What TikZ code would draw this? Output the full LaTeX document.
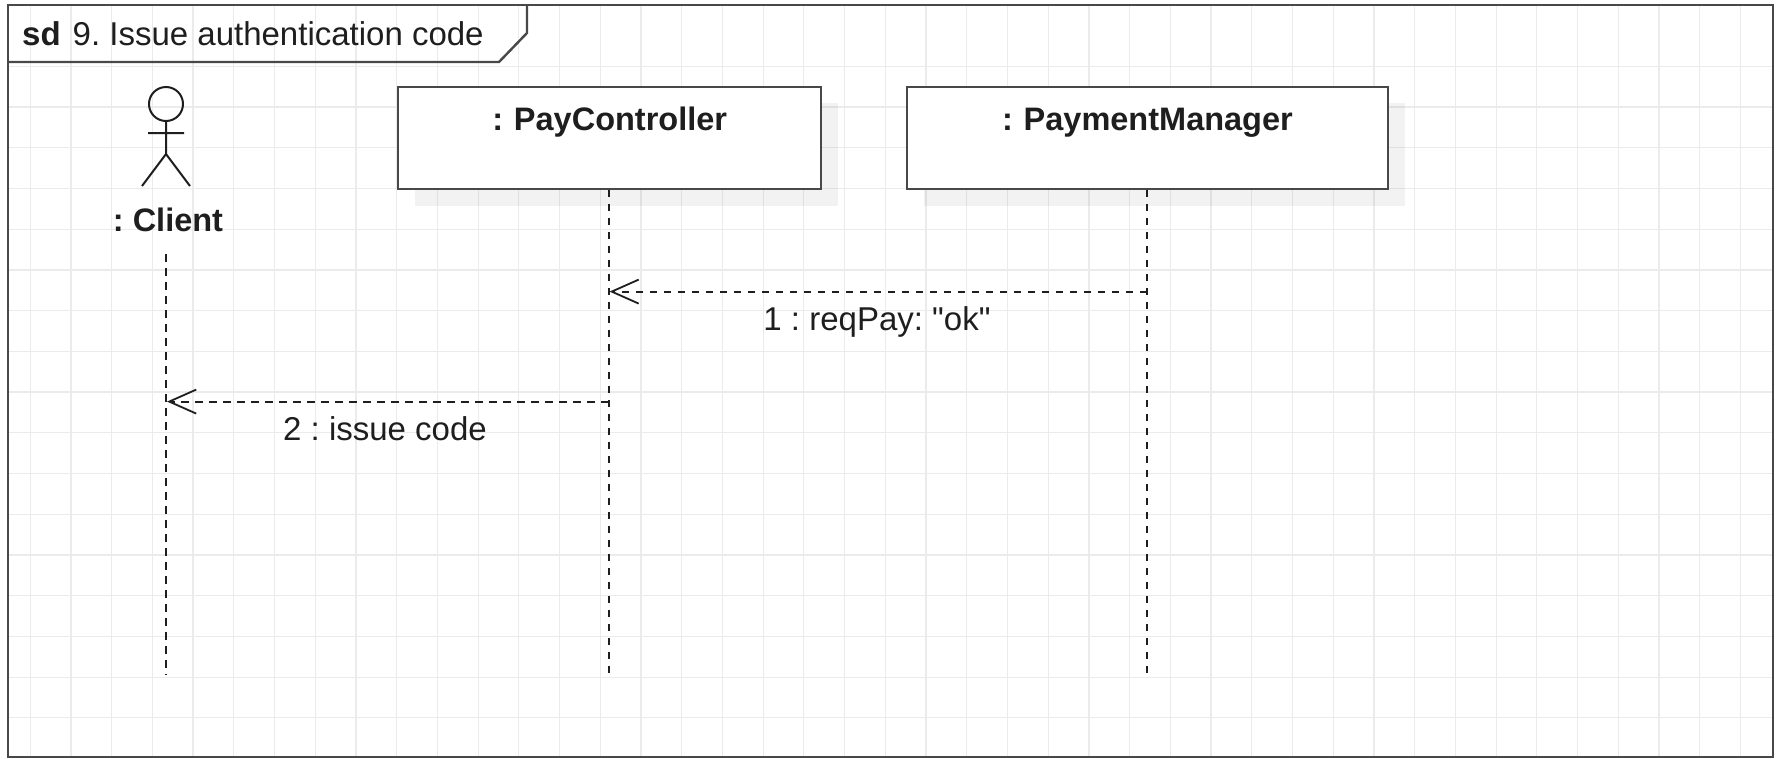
\documentclass[tikz,border=0pt]{standalone}
\usepackage{fontspec}
\setmainfont{Liberation Sans}
\newfontfamily\quotefont{Liberation Sans}
\usetikzlibrary{arrows.meta}
\definecolor{gridc}{HTML}{EBEBEB}
\definecolor{inkc}{HTML}{484848}
\definecolor{textc}{HTML}{1E1E1E}
\newcommand{\labelfont}{\fontsize{32.5}{36}\selectfont\frenchspacing}
\newcommand{\msgfont}{\fontsize{33}{36}\selectfont\frenchspacing}
\tikzset{
  gridline/.style={draw=gridc,line width=1.2pt},
  framebox/.style={draw=inkc,line width=2.4pt,line join=miter},
  objbox/.style={draw=inkc,line width=2.4pt,fill=white,anchor=north west,inner sep=0pt,
    text width=#1,align=center,text height=43.5pt,text depth=58.5pt,font=\labelfont\bfseries,text=textc},
  objshadow/.style={fill=black,fill opacity=.05,draw=none},
  lifeline/.style={draw=textc,line width=2pt,dash pattern=on 7.5pt off 6.5pt},
  message/.style={lifeline,-{Straight Barb[length=27pt,width=24pt,line width=1.8pt]}},
  msglabel/.style={inner sep=0pt,anchor=base,font=\msgfont,text=textc},
  actorline/.style={draw=textc,line width=2pt},
}
\begin{document}
\begin{tikzpicture}[x=1pt,y=-1pt]
\useasboundingbox (0,0) rectangle (1779,758);
\fill[white] (0,0) rectangle (1779,758);
% grid
\foreach \k in {0,...,42}{\draw[gridline] ({30.2+40.72*\k},5) -- ({30.2+40.72*\k},757);}
\foreach \k in {0,...,16}{\draw[gridline] (8,{66.3+40.72*\k}) -- (1773,{66.3+40.72*\k});}
% frame
\draw[framebox] (8,5) rectangle (1773,757);
\node[inner sep=0pt,anchor=base west,font=\msgfont,text=textc] (title) at (22,45) {\textbf{sd}\hspace{12pt}9. Issue authentication code};
\draw[framebox] (8,62) -- (499,62) -- (527,33) -- (527,5);
% shadows
\fill[objshadow] (415,103) rectangle (838,206);
\fill[objshadow] (924,103) rectangle (1405,206);
% objects
\node[objbox=423pt] (pay) at (397,85.5) {: PayController};
\node[objbox=480.5pt] (mgr) at (906,85.5) {: PaymentManager};
% actor
\node[circle,draw=textc,line width=2pt,inner sep=0pt,minimum size=34pt] (head) at (166,104) {};
\coordinate (neck) at (166,154);
\coordinate (armL) at (148,133);
\coordinate (armR) at (184,133);
\coordinate (legL) at (142,186);
\coordinate (legR) at (190,186);
\draw[actorline] (head.south) -- (neck) (armL) -- (armR) (legL) -- (neck) -- (legR);
\node[msglabel,font=\labelfont\bfseries] (client) at (168,231) {: Client};
% lifelines
\coordinate (clientTop) at (166,254);
\coordinate (clientEnd) at (166,675);
\coordinate (payEnd) at (608.5,673);
\coordinate (mgrEnd) at (1147,673);
\draw[lifeline] (clientTop) -- (clientEnd);
\draw[lifeline] (pay.south -| payEnd) -- (payEnd);
\draw[lifeline] (mgr.south -| mgrEnd) -- (mgrEnd);
% messages
\coordinate (m1s) at (1147,291.6);
\coordinate (m1e) at (609.5,291.6);
\coordinate (m2s) at (608.5,401.6);
\coordinate (m2e) at (167,401.6);
\draw[message] (m1s) -- (m1e);
\draw[message] (m2s) -- (m2e);
\node[msglabel] (l1) at (877,330.5) {1 : reqPay: {\quotefont"ok"}};
\node[msglabel] (l2) at (385,440) {2 : issue code};
\end{tikzpicture}
\end{document}
